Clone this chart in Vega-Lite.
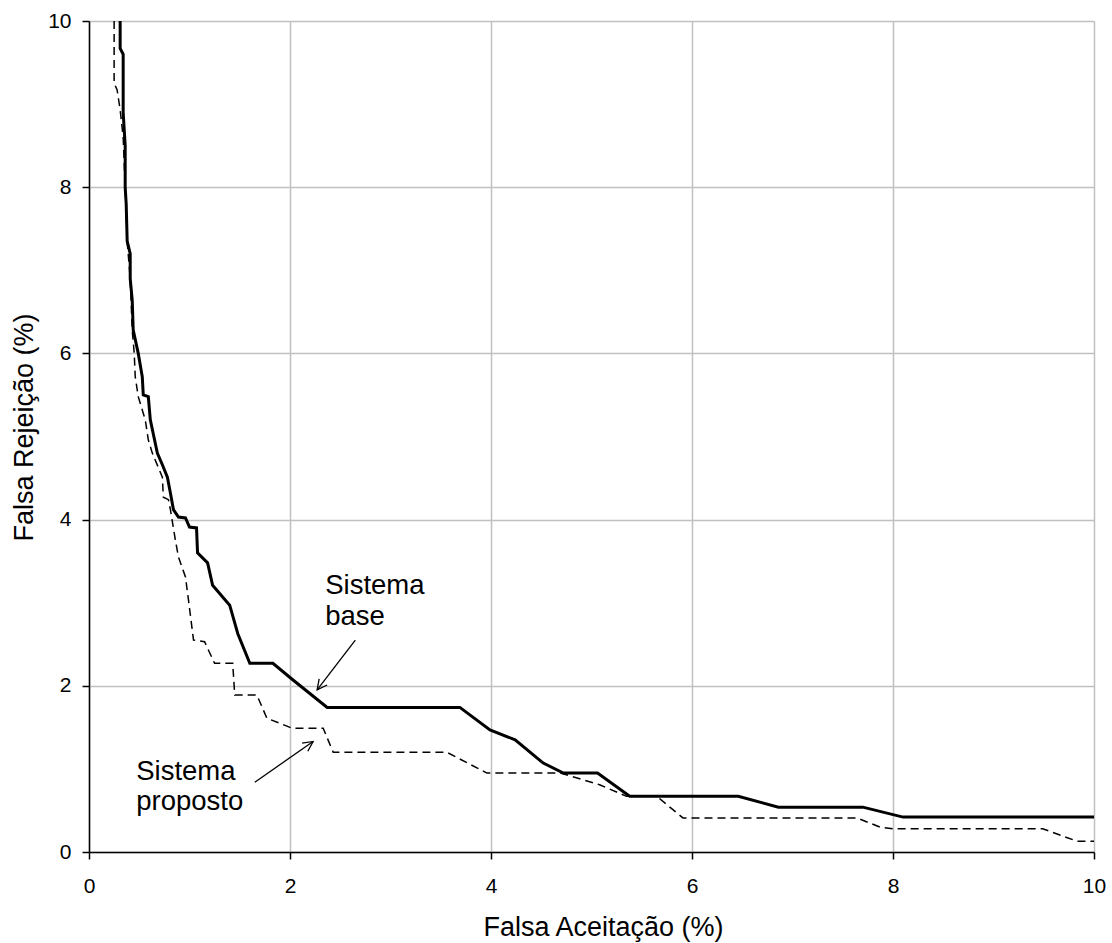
{
  "$schema": "https://vega.github.io/schema/vega-lite/v6.json",
  "width": 1005,
  "height": 831,
  "autosize": {"type": "none"},
  "padding": {"left": 89, "top": 21, "right": 18, "bottom": 91},
  "background": "white",
  "config": {"view": {"stroke": null}, "font": "Liberation Sans"},
  "datasets": {
    "base": [
      {"x": 0.31, "y": 10}, {"x": 0.31, "y": 9.67}, {"x": 0.34, "y": 9.6}, {"x": 0.34, "y": 8.9},
      {"x": 0.36, "y": 8.5}, {"x": 0.36, "y": 8.0}, {"x": 0.37, "y": 7.8}, {"x": 0.38, "y": 7.35},
      {"x": 0.41, "y": 7.2}, {"x": 0.41, "y": 6.9}, {"x": 0.43, "y": 6.64}, {"x": 0.44, "y": 6.28},
      {"x": 0.49, "y": 6.0}, {"x": 0.53, "y": 5.72}, {"x": 0.54, "y": 5.5}, {"x": 0.59, "y": 5.48},
      {"x": 0.61, "y": 5.2}, {"x": 0.68, "y": 4.8}, {"x": 0.73, "y": 4.66}, {"x": 0.78, "y": 4.51},
      {"x": 0.81, "y": 4.32}, {"x": 0.84, "y": 4.12}, {"x": 0.89, "y": 4.03}, {"x": 0.96, "y": 4.02},
      {"x": 1.0, "y": 3.91}, {"x": 1.07, "y": 3.9}, {"x": 1.08, "y": 3.6}, {"x": 1.18, "y": 3.48},
      {"x": 1.23, "y": 3.21}, {"x": 1.40, "y": 2.97}, {"x": 1.48, "y": 2.63}, {"x": 1.60, "y": 2.27},
      {"x": 1.83, "y": 2.27}, {"x": 2.03, "y": 2.07}, {"x": 2.37, "y": 1.74}, {"x": 3.69, "y": 1.74},
      {"x": 3.99, "y": 1.47}, {"x": 4.24, "y": 1.35}, {"x": 4.52, "y": 1.07}, {"x": 4.72, "y": 0.95},
      {"x": 5.06, "y": 0.95}, {"x": 5.38, "y": 0.67}, {"x": 6.46, "y": 0.67}, {"x": 6.86, "y": 0.54},
      {"x": 7.70, "y": 0.54}, {"x": 8.10, "y": 0.42}, {"x": 10, "y": 0.42}
    ],
    "proposto": [
      {"x": 0.25, "y": 10}, {"x": 0.25, "y": 9.25}, {"x": 0.28, "y": 9.17}, {"x": 0.31, "y": 8.93},
      {"x": 0.34, "y": 8.6}, {"x": 0.36, "y": 8.0}, {"x": 0.38, "y": 7.35}, {"x": 0.41, "y": 6.9},
      {"x": 0.43, "y": 6.28}, {"x": 0.45, "y": 6.0}, {"x": 0.46, "y": 5.72}, {"x": 0.49, "y": 5.48},
      {"x": 0.53, "y": 5.32}, {"x": 0.56, "y": 5.2}, {"x": 0.59, "y": 4.96}, {"x": 0.63, "y": 4.8},
      {"x": 0.73, "y": 4.51}, {"x": 0.74, "y": 4.27}, {"x": 0.79, "y": 4.24}, {"x": 0.81, "y": 4.12},
      {"x": 0.86, "y": 3.75}, {"x": 0.89, "y": 3.55}, {"x": 0.96, "y": 3.31}, {"x": 0.99, "y": 3.03},
      {"x": 1.04, "y": 2.55}, {"x": 1.15, "y": 2.53}, {"x": 1.25, "y": 2.27}, {"x": 1.43, "y": 2.27},
      {"x": 1.45, "y": 1.89}, {"x": 1.67, "y": 1.89}, {"x": 1.77, "y": 1.61}, {"x": 2.02, "y": 1.49},
      {"x": 2.33, "y": 1.49}, {"x": 2.43, "y": 1.2}, {"x": 3.56, "y": 1.2}, {"x": 3.96, "y": 0.95},
      {"x": 4.69, "y": 0.95}, {"x": 5.08, "y": 0.81}, {"x": 5.35, "y": 0.67}, {"x": 5.65, "y": 0.67},
      {"x": 5.91, "y": 0.41}, {"x": 7.64, "y": 0.41}, {"x": 7.87, "y": 0.30}, {"x": 8.0, "y": 0.28},
      {"x": 9.49, "y": 0.28}, {"x": 9.83, "y": 0.13}, {"x": 10, "y": 0.13}
    ],
    "labels": [
      {"t": "Sistema", "x": 2.35, "y": 3.105},
      {"t": "base", "x": 2.35, "y": 2.73},
      {"t": "Sistema", "x": 0.47, "y": 0.866},
      {"t": "proposto", "x": 0.47, "y": 0.51}
    ],
    "arrows": [
      {"name": "base", "x": 2.27, "y": 1.95, "x2": 2.65, "y2": 2.55},
      {"name": "proposto", "x": 2.23, "y": 1.33, "x2": 1.65, "y2": 0.84}
    ]
  },
  "encoding": {
    "x": {
      "field": "x", "type": "quantitative",
      "scale": {"domain": [0, 10], "nice": false, "zero": false},
      "axis": {
        "values": [0, 2, 4, 6, 8, 10],
        "title": "Falsa Aceitação (%)",
        "grid": true, "gridColor": "#c0c0c0", "gridWidth": 1.5,
        "domainColor": "#000000", "domainWidth": 1.5,
        "tickColor": "#000000", "tickWidth": 1.5, "tickSize": 7,
        "labelFontSize": 21, "labelColor": "#000000", "labelBaseline": "alphabetic",
        "labelPadding": 33, "labelFlush": false, "labelOverlap": false,
        "titleFontSize": 27, "titleFontWeight": "normal", "titleColor": "#000000",
        "titleX": 514, "titleY": 83, "titleBaseline": "alphabetic", "titleAlign": "center"
      }
    },
    "y": {
      "field": "y", "type": "quantitative",
      "scale": {"domain": [0, 10], "nice": false, "zero": false},
      "axis": {
        "values": [0, 2, 4, 6, 8, 10],
        "title": "Falsa Rejeição (%)",
        "grid": true, "gridColor": "#c0c0c0", "gridWidth": 1.5,
        "domainColor": "#000000", "domainWidth": 1.5,
        "tickColor": "#000000", "tickWidth": 1.5, "tickSize": 7,
        "labelFontSize": 21, "labelColor": "#000000", "labelBaseline": "middle",
        "labelPadding": 11, "labelFlush": false, "labelOverlap": false,
        "titleFontSize": 27, "titleFontWeight": "normal", "titleColor": "#000000",
        "titleX": -57, "titleY": 406, "titleAngle": 270, "titleBaseline": "alphabetic", "titleAlign": "center"
      }
    }
  },
  "layer": [
    {
      "data": {"name": "proposto"},
      "mark": {"type": "line", "color": "#000000", "strokeWidth": 1.5, "strokeDash": [8, 5], "clip": true},
      "encoding": {"order": {"value": null}}
    },
    {
      "data": {"name": "base"},
      "mark": {"type": "line", "color": "#000000", "strokeWidth": 3, "clip": true},
      "encoding": {"order": {"value": null}}
    },
    {
      "data": {"name": "labels"},
      "mark": {"type": "text", "align": "left", "baseline": "alphabetic", "fontSize": 27.5, "color": "#000000"},
      "encoding": {"text": {"field": "t"}}
    },
    {
      "data": {"name": "arrows"},
      "mark": {"type": "rule", "color": "#000000", "strokeWidth": 1.3},
      "encoding": {"x2": {"field": "x2"}, "y2": {"field": "y2"}}
    },
    {
      "data": {"name": "arrows"},
      "transform": [{"filter": "datum.name === 'base'"}],
      "mark": {"type": "point", "shape": "M -0.5 1 L 0 0 L 0.5 1", "filled": false, "stroke": "#000000", "strokeWidth": 1.3, "size": 400, "angle": 217, "opacity": 1},
      "encoding": {}
    },
    {
      "data": {"name": "arrows"},
      "transform": [{"filter": "datum.name === 'proposto'"}],
      "mark": {"type": "point", "shape": "M -0.5 1 L 0 0 L 0.5 1", "filled": false, "stroke": "#000000", "strokeWidth": 1.3, "size": 400, "angle": 55, "opacity": 1},
      "encoding": {}
    }
  ]
}
